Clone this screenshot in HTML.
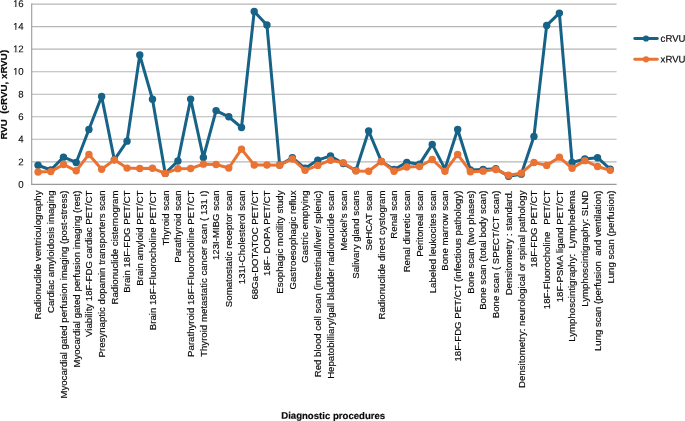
<!DOCTYPE html><html><head><meta charset="utf-8"><title>chart</title><style>html,body{margin:0;padding:0;background:#fff}body{width:685px;height:421px;overflow:hidden}svg{display:block;will-change:transform}text{font-family:"Liberation Sans",sans-serif;fill:#0a0a0a;stroke:#0a0a0a;stroke-width:0.17px}</style></head><body>
<svg width="685" height="421" viewBox="0 0 685 421">
<rect width="685" height="421" fill="#fff"/>
<line x1="31.7" y1="161.86" x2="616.6" y2="161.86" stroke="#b6b6b6" stroke-width="1.1"/>
<line x1="31.7" y1="139.32" x2="616.6" y2="139.32" stroke="#b6b6b6" stroke-width="1.1"/>
<line x1="31.7" y1="116.78" x2="616.6" y2="116.78" stroke="#b6b6b6" stroke-width="1.1"/>
<line x1="31.7" y1="94.24" x2="616.6" y2="94.24" stroke="#b6b6b6" stroke-width="1.1"/>
<line x1="31.7" y1="71.70" x2="616.6" y2="71.70" stroke="#b6b6b6" stroke-width="1.1"/>
<line x1="31.7" y1="49.16" x2="616.6" y2="49.16" stroke="#b6b6b6" stroke-width="1.1"/>
<line x1="31.7" y1="26.62" x2="616.6" y2="26.62" stroke="#b6b6b6" stroke-width="1.1"/>
<line x1="31.7" y1="4.08" x2="616.6" y2="4.08" stroke="#b6b6b6" stroke-width="1.1"/>
<line x1="31.7" y1="3.58" x2="31.7" y2="184.90" stroke="#9a9a9a" stroke-width="1.1"/>
<line x1="31.2" y1="184.4" x2="616.6" y2="184.4" stroke="#9a9a9a" stroke-width="1.1"/>
<text transform="translate(23.7,187.74) rotate(0.04)" font-size="9.7" text-anchor="end" style="stroke-width:0.1px">0</text>
<text transform="translate(23.7,165.16) rotate(0.04)" font-size="9.7" text-anchor="end" style="stroke-width:0.1px">2</text>
<text transform="translate(23.7,142.58) rotate(0.04)" font-size="9.7" text-anchor="end" style="stroke-width:0.1px">4</text>
<text transform="translate(23.7,120.00) rotate(0.04)" font-size="9.7" text-anchor="end" style="stroke-width:0.1px">6</text>
<text transform="translate(23.7,97.42) rotate(0.04)" font-size="9.7" text-anchor="end" style="stroke-width:0.1px">8</text>
<text transform="translate(23.7,74.84) rotate(0.04)" font-size="9.7" text-anchor="end" style="stroke-width:0.1px">10</text>
<rect x="13.1" y="73.92" width="2.16" height="1.3" fill="#fff"/><rect x="16.34" y="73.92" width="2.0" height="1.3" fill="#fff"/>
<text transform="translate(23.7,52.26) rotate(0.04)" font-size="9.7" text-anchor="end" style="stroke-width:0.1px">12</text>
<rect x="13.1" y="51.34" width="2.16" height="1.3" fill="#fff"/><rect x="16.34" y="51.34" width="2.0" height="1.3" fill="#fff"/>
<text transform="translate(23.7,29.68) rotate(0.04)" font-size="9.7" text-anchor="end" style="stroke-width:0.1px">14</text>
<rect x="13.1" y="28.76" width="2.16" height="1.3" fill="#fff"/><rect x="16.34" y="28.76" width="2.0" height="1.3" fill="#fff"/>
<text transform="translate(23.7,7.10) rotate(0.04)" font-size="9.7" text-anchor="end" style="stroke-width:0.1px">16</text>
<rect x="13.1" y="6.18" width="2.16" height="1.3" fill="#fff"/><rect x="16.34" y="6.18" width="2.0" height="1.3" fill="#fff"/>
<text transform="translate(7.3,94.7) rotate(-90)" font-size="9.8" font-weight="bold" text-anchor="middle" xml:space="preserve">RVU  (cRVU, xRVU)</text>
<text transform="translate(333.2,418.9) rotate(0.04)" font-size="9.6" font-weight="bold" text-anchor="middle">Diagnostic procedures</text>
<polyline points="38.06,165.27 50.77,170.00 63.49,157.15 76.20,162.45 88.92,129.54 101.63,96.52 114.35,159.86 127.06,141.15 139.78,55.05 152.49,99.22 165.21,173.38 177.92,160.98 190.64,99.11 203.36,157.49 216.07,110.61 228.79,116.80 241.50,127.51 254.22,11.43 266.93,25.07 279.65,164.93 292.36,157.71 305.08,168.31 317.79,160.08 330.51,155.91 343.22,163.58 355.94,170.56 368.65,131.00 381.37,161.43 394.08,169.44 406.80,162.34 419.51,164.14 432.23,144.42 444.94,168.87 457.66,129.54 470.38,170.00 483.09,169.44 495.81,168.65 508.52,176.20 521.24,174.17 533.95,136.41 546.67,25.40 559.38,13.12 572.10,162.45 584.81,158.95 597.53,157.71 610.24,169.21" fill="none" stroke="#176287" stroke-width="3" stroke-linejoin="round" stroke-linecap="round"/>
<circle cx="38.06" cy="165.27" r="3.7" fill="#176287"/>
<circle cx="50.77" cy="170.00" r="3.7" fill="#176287"/>
<circle cx="63.49" cy="157.15" r="3.7" fill="#176287"/>
<circle cx="76.20" cy="162.45" r="3.7" fill="#176287"/>
<circle cx="88.92" cy="129.54" r="3.7" fill="#176287"/>
<circle cx="101.63" cy="96.52" r="3.7" fill="#176287"/>
<circle cx="114.35" cy="159.86" r="3.7" fill="#176287"/>
<circle cx="127.06" cy="141.15" r="3.7" fill="#176287"/>
<circle cx="139.78" cy="55.05" r="3.7" fill="#176287"/>
<circle cx="152.49" cy="99.22" r="3.7" fill="#176287"/>
<circle cx="165.21" cy="173.38" r="3.7" fill="#176287"/>
<circle cx="177.92" cy="160.98" r="3.7" fill="#176287"/>
<circle cx="190.64" cy="99.11" r="3.7" fill="#176287"/>
<circle cx="203.36" cy="157.49" r="3.7" fill="#176287"/>
<circle cx="216.07" cy="110.61" r="3.7" fill="#176287"/>
<circle cx="228.79" cy="116.80" r="3.7" fill="#176287"/>
<circle cx="241.50" cy="127.51" r="3.7" fill="#176287"/>
<circle cx="254.22" cy="11.43" r="3.7" fill="#176287"/>
<circle cx="266.93" cy="25.07" r="3.7" fill="#176287"/>
<circle cx="279.65" cy="164.93" r="3.7" fill="#176287"/>
<circle cx="292.36" cy="157.71" r="3.7" fill="#176287"/>
<circle cx="305.08" cy="168.31" r="3.7" fill="#176287"/>
<circle cx="317.79" cy="160.08" r="3.7" fill="#176287"/>
<circle cx="330.51" cy="155.91" r="3.7" fill="#176287"/>
<circle cx="343.22" cy="163.58" r="3.7" fill="#176287"/>
<circle cx="355.94" cy="170.56" r="3.7" fill="#176287"/>
<circle cx="368.65" cy="131.00" r="3.7" fill="#176287"/>
<circle cx="381.37" cy="161.43" r="3.7" fill="#176287"/>
<circle cx="394.08" cy="169.44" r="3.7" fill="#176287"/>
<circle cx="406.80" cy="162.34" r="3.7" fill="#176287"/>
<circle cx="419.51" cy="164.14" r="3.7" fill="#176287"/>
<circle cx="432.23" cy="144.42" r="3.7" fill="#176287"/>
<circle cx="444.94" cy="168.87" r="3.7" fill="#176287"/>
<circle cx="457.66" cy="129.54" r="3.7" fill="#176287"/>
<circle cx="470.38" cy="170.00" r="3.7" fill="#176287"/>
<circle cx="483.09" cy="169.44" r="3.7" fill="#176287"/>
<circle cx="495.81" cy="168.65" r="3.7" fill="#176287"/>
<circle cx="508.52" cy="176.20" r="3.7" fill="#176287"/>
<circle cx="521.24" cy="174.17" r="3.7" fill="#176287"/>
<circle cx="533.95" cy="136.41" r="3.7" fill="#176287"/>
<circle cx="546.67" cy="25.40" r="3.7" fill="#176287"/>
<circle cx="559.38" cy="13.12" r="3.7" fill="#176287"/>
<circle cx="572.10" cy="162.45" r="3.7" fill="#176287"/>
<circle cx="584.81" cy="158.95" r="3.7" fill="#176287"/>
<circle cx="597.53" cy="157.71" r="3.7" fill="#176287"/>
<circle cx="610.24" cy="169.21" r="3.7" fill="#176287"/>
<polyline points="38.06,172.03 50.77,171.58 63.49,164.48 76.20,170.79 88.92,154.45 101.63,169.21 114.35,159.86 127.06,168.08 139.78,168.53 152.49,168.31 165.21,173.38 177.92,168.65 190.64,168.53 203.36,164.14 216.07,164.48 228.79,167.97 241.50,149.15 254.22,165.04 266.93,165.04 279.65,165.15 292.36,158.95 305.08,170.34 317.79,165.38 330.51,160.19 343.22,162.67 355.94,170.90 368.65,171.24 381.37,161.43 394.08,171.24 406.80,166.96 419.51,166.51 432.23,159.52 444.94,171.35 457.66,154.45 470.38,171.69 483.09,171.13 495.81,169.44 508.52,175.30 521.24,173.15 533.95,162.45 546.67,165.38 559.38,157.15 572.10,168.31 584.81,160.64 597.53,166.51 610.24,170.34" fill="none" stroke="#ea7232" stroke-width="3" stroke-linejoin="round" stroke-linecap="round"/>
<circle cx="38.06" cy="172.03" r="3.7" fill="#ea7232"/>
<circle cx="50.77" cy="171.58" r="3.7" fill="#ea7232"/>
<circle cx="63.49" cy="164.48" r="3.7" fill="#ea7232"/>
<circle cx="76.20" cy="170.79" r="3.7" fill="#ea7232"/>
<circle cx="88.92" cy="154.45" r="3.7" fill="#ea7232"/>
<circle cx="101.63" cy="169.21" r="3.7" fill="#ea7232"/>
<circle cx="114.35" cy="159.86" r="3.7" fill="#ea7232"/>
<circle cx="127.06" cy="168.08" r="3.7" fill="#ea7232"/>
<circle cx="139.78" cy="168.53" r="3.7" fill="#ea7232"/>
<circle cx="152.49" cy="168.31" r="3.7" fill="#ea7232"/>
<circle cx="165.21" cy="173.38" r="3.7" fill="#ea7232"/>
<circle cx="177.92" cy="168.65" r="3.7" fill="#ea7232"/>
<circle cx="190.64" cy="168.53" r="3.7" fill="#ea7232"/>
<circle cx="203.36" cy="164.14" r="3.7" fill="#ea7232"/>
<circle cx="216.07" cy="164.48" r="3.7" fill="#ea7232"/>
<circle cx="228.79" cy="167.97" r="3.7" fill="#ea7232"/>
<circle cx="241.50" cy="149.15" r="3.7" fill="#ea7232"/>
<circle cx="254.22" cy="165.04" r="3.7" fill="#ea7232"/>
<circle cx="266.93" cy="165.04" r="3.7" fill="#ea7232"/>
<circle cx="279.65" cy="165.15" r="3.7" fill="#ea7232"/>
<circle cx="292.36" cy="158.95" r="3.7" fill="#ea7232"/>
<circle cx="305.08" cy="170.34" r="3.7" fill="#ea7232"/>
<circle cx="317.79" cy="165.38" r="3.7" fill="#ea7232"/>
<circle cx="330.51" cy="160.19" r="3.7" fill="#ea7232"/>
<circle cx="343.22" cy="162.67" r="3.7" fill="#ea7232"/>
<circle cx="355.94" cy="170.90" r="3.7" fill="#ea7232"/>
<circle cx="368.65" cy="171.24" r="3.7" fill="#ea7232"/>
<circle cx="381.37" cy="161.43" r="3.7" fill="#ea7232"/>
<circle cx="394.08" cy="171.24" r="3.7" fill="#ea7232"/>
<circle cx="406.80" cy="166.96" r="3.7" fill="#ea7232"/>
<circle cx="419.51" cy="166.51" r="3.7" fill="#ea7232"/>
<circle cx="432.23" cy="159.52" r="3.7" fill="#ea7232"/>
<circle cx="444.94" cy="171.35" r="3.7" fill="#ea7232"/>
<circle cx="457.66" cy="154.45" r="3.7" fill="#ea7232"/>
<circle cx="470.38" cy="171.69" r="3.7" fill="#ea7232"/>
<circle cx="483.09" cy="171.13" r="3.7" fill="#ea7232"/>
<circle cx="495.81" cy="169.44" r="3.7" fill="#ea7232"/>
<circle cx="508.52" cy="175.30" r="3.7" fill="#ea7232"/>
<circle cx="521.24" cy="173.15" r="3.7" fill="#ea7232"/>
<circle cx="533.95" cy="162.45" r="3.7" fill="#ea7232"/>
<circle cx="546.67" cy="165.38" r="3.7" fill="#ea7232"/>
<circle cx="559.38" cy="157.15" r="3.7" fill="#ea7232"/>
<circle cx="572.10" cy="168.31" r="3.7" fill="#ea7232"/>
<circle cx="584.81" cy="160.64" r="3.7" fill="#ea7232"/>
<circle cx="597.53" cy="166.51" r="3.7" fill="#ea7232"/>
<circle cx="610.24" cy="170.34" r="3.7" fill="#ea7232"/>
<text transform="translate(41.36,190.5) rotate(-90)" font-size="9.65" text-anchor="end" xml:space="preserve">Radionuclide ventriculography</text>
<text transform="translate(54.07,190.5) rotate(-90)" font-size="9.65" text-anchor="end" xml:space="preserve">Cardiac amyloidosis imaging</text>
<text transform="translate(66.79,190.5) rotate(-90)" font-size="9.65" text-anchor="end" xml:space="preserve">Myocardial gated perfusion imaging (post-stress)</text>
<text transform="translate(79.50,190.5) rotate(-90)" font-size="9.65" text-anchor="end" xml:space="preserve">Myocardial gated perfusion imaging (rest)</text>
<text transform="translate(92.22,190.5) rotate(-90)" font-size="9.65" text-anchor="end" xml:space="preserve">Viability 18F-FDG cardiac PET/CT</text>
<text transform="translate(104.93,190.5) rotate(-90)" font-size="9.65" text-anchor="end" xml:space="preserve">Presynaptic dopamin transporters scan</text>
<text transform="translate(117.65,190.5) rotate(-90)" font-size="9.65" text-anchor="end" xml:space="preserve">Radionuclide cisternogram</text>
<text transform="translate(130.36,190.5) rotate(-90)" font-size="9.65" text-anchor="end" xml:space="preserve">Brain 18F-FDG PET/CT</text>
<text transform="translate(143.08,190.5) rotate(-90)" font-size="9.65" text-anchor="end" xml:space="preserve">Brain amyloid PET/CT</text>
<text transform="translate(155.79,190.5) rotate(-90)" font-size="9.65" text-anchor="end" xml:space="preserve">Brain 18F-Fluorocholine PET/CT</text>
<text transform="translate(168.51,190.5) rotate(-90)" font-size="9.65" text-anchor="end" xml:space="preserve">Thyroid scan</text>
<text transform="translate(181.22,190.5) rotate(-90)" font-size="9.65" text-anchor="end" xml:space="preserve">Parathyroid scan</text>
<text transform="translate(193.94,190.5) rotate(-90)" font-size="9.65" text-anchor="end" xml:space="preserve">Parathyroid 18F-Fluorocholine PET/CT</text>
<text transform="translate(206.66,190.5) rotate(-90)" font-size="9.65" text-anchor="end" xml:space="preserve">Thyroid metastatic cancer scan ( 131 I)</text>
<text transform="translate(219.37,190.5) rotate(-90)" font-size="9.65" text-anchor="end" xml:space="preserve">123I-MIBG scan</text>
<text transform="translate(232.09,190.5) rotate(-90)" font-size="9.65" text-anchor="end" xml:space="preserve">Somatostatic receptor scan</text>
<text transform="translate(244.80,190.5) rotate(-90)" font-size="9.65" text-anchor="end" xml:space="preserve">131I-Cholesterol scan</text>
<text transform="translate(257.52,190.5) rotate(-90)" font-size="9.65" text-anchor="end" xml:space="preserve">68Ga-DOTATOC PET/CT</text>
<text transform="translate(270.23,190.5) rotate(-90)" font-size="9.65" text-anchor="end" xml:space="preserve">18F- DOPA PET/CT</text>
<text transform="translate(282.95,190.5) rotate(-90)" font-size="9.65" text-anchor="end" xml:space="preserve">Esophagic motility study</text>
<text transform="translate(295.66,190.5) rotate(-90)" font-size="9.65" text-anchor="end" xml:space="preserve">Gastroesophagic reflux</text>
<text transform="translate(308.38,190.5) rotate(-90)" font-size="9.65" text-anchor="end" xml:space="preserve">Gastric emptying</text>
<text transform="translate(321.09,190.5) rotate(-90)" font-size="9.65" text-anchor="end" xml:space="preserve">Red blood cell scan (intestinal/liver/ splenic)</text>
<text transform="translate(333.81,190.5) rotate(-90)" font-size="9.65" text-anchor="end" xml:space="preserve">Hepatobilliary/gall bladder radionuclide scan</text>
<text transform="translate(346.52,190.5) rotate(-90)" font-size="9.65" text-anchor="end" xml:space="preserve">Meckel's scan</text>
<text transform="translate(359.24,190.5) rotate(-90)" font-size="9.65" text-anchor="end" xml:space="preserve">Salivary gland scans</text>
<text transform="translate(371.95,190.5) rotate(-90)" font-size="9.65" text-anchor="end" xml:space="preserve">SeHCAT scan</text>
<text transform="translate(384.67,190.5) rotate(-90)" font-size="9.65" text-anchor="end" xml:space="preserve">Radionuclide direct cystogram</text>
<text transform="translate(397.38,190.5) rotate(-90)" font-size="9.65" text-anchor="end" xml:space="preserve">Renal scan</text>
<text transform="translate(410.10,190.5) rotate(-90)" font-size="9.65" text-anchor="end" xml:space="preserve">Renal diuretic scan</text>
<text transform="translate(422.81,190.5) rotate(-90)" font-size="9.65" text-anchor="end" xml:space="preserve">Peritoneal scan</text>
<text transform="translate(435.53,190.5) rotate(-90)" font-size="9.65" text-anchor="end" xml:space="preserve">Labeled leukocites scan</text>
<text transform="translate(448.24,190.5) rotate(-90)" font-size="9.65" text-anchor="end" xml:space="preserve">Bone marrow scan</text>
<text transform="translate(460.96,190.5) rotate(-90)" font-size="9.65" text-anchor="end" xml:space="preserve">18F-FDG PET/CT (infectious pathology)</text>
<text transform="translate(473.68,190.5) rotate(-90)" font-size="9.65" text-anchor="end" xml:space="preserve">Bone scan (two phases)</text>
<text transform="translate(486.39,190.5) rotate(-90)" font-size="9.65" text-anchor="end" xml:space="preserve">Bone scan (total body scan)</text>
<text transform="translate(499.11,190.5) rotate(-90)" font-size="9.65" text-anchor="end" xml:space="preserve">Bone scan ( SPECT/CT scan)</text>
<text transform="translate(511.82,190.5) rotate(-90)" font-size="9.65" text-anchor="end" xml:space="preserve">Densitometry : standard.</text>
<text transform="translate(524.54,190.5) rotate(-90)" font-size="9.65" text-anchor="end" xml:space="preserve">Densitometry: neurological or spinal pathology</text>
<text transform="translate(537.25,190.5) rotate(-90)" font-size="9.65" text-anchor="end" xml:space="preserve">18F-FDG PET/CT</text>
<text transform="translate(549.97,190.5) rotate(-90)" font-size="9.65" text-anchor="end" xml:space="preserve">18F-Fluorocholine  <tspan dx="1.5">PET/CT</tspan></text>
<text transform="translate(562.68,190.5) rotate(-90)" font-size="9.65" text-anchor="end" xml:space="preserve">18F-PSMA ligand PET/CT</text>
<text transform="translate(575.40,190.5) rotate(-90)" font-size="9.65" text-anchor="end" xml:space="preserve">Lymphoscintigraphy:  Lymphedema</text>
<text transform="translate(588.11,190.5) rotate(-90)" font-size="9.65" text-anchor="end" xml:space="preserve">Lymphoscintigraphy: SLND</text>
<text transform="translate(600.83,190.5) rotate(-90)" font-size="9.65" text-anchor="end" xml:space="preserve">Lung scan (perfusion  and ventilation)</text>
<text transform="translate(613.54,190.5) rotate(-90)" font-size="9.65" text-anchor="end" xml:space="preserve">Lung scan (perfusion)</text>
<line x1="634.8" y1="38.5" x2="657.3" y2="38.5" stroke="#176287" stroke-width="2.9" stroke-linecap="round"/>
<circle cx="646" cy="38.5" r="3.1" fill="#176287"/>
<text transform="translate(660.6,41.7) rotate(0.04)" font-size="9.6">cRVU</text>
<line x1="634.8" y1="59.3" x2="657.3" y2="59.3" stroke="#ea7232" stroke-width="2.9" stroke-linecap="round"/>
<circle cx="646" cy="59.3" r="3.1" fill="#ea7232"/>
<text transform="translate(660.6,62.5) rotate(0.04)" font-size="9.6">xRVU</text>
</svg></body></html>
